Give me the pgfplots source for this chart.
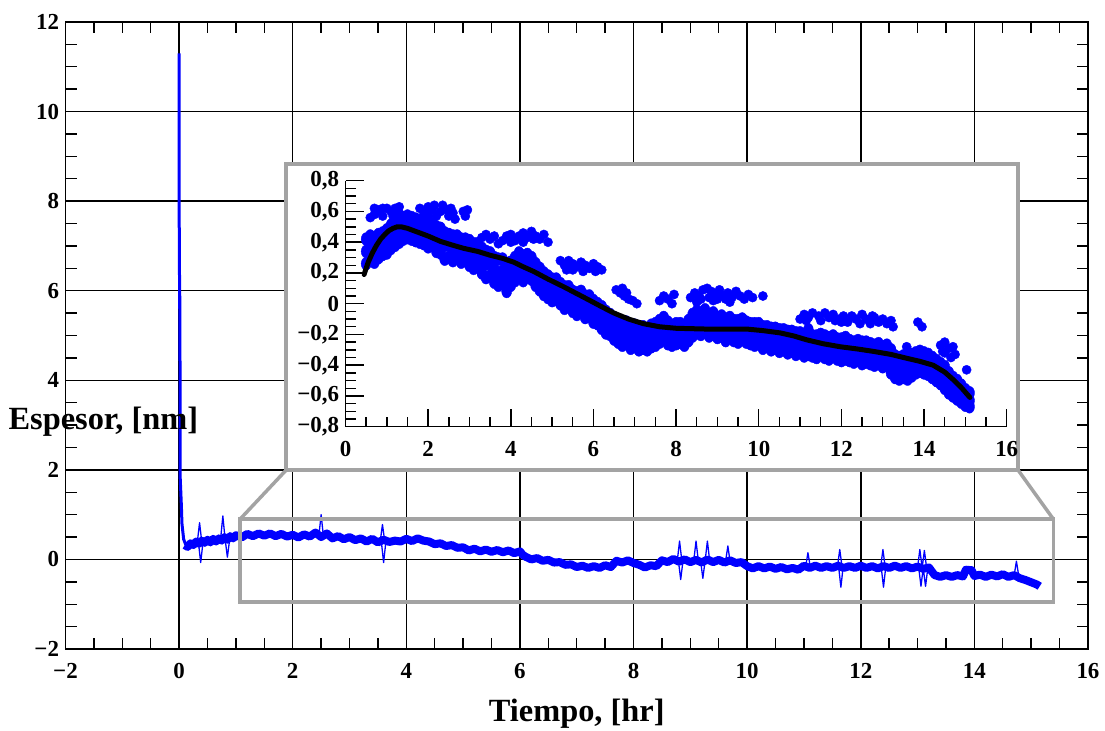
\documentclass[border=0pt]{standalone}
\usepackage{fontspec}
\setmainfont{Liberation Serif}
\usepackage{pgfplots}
\pgfplotsset{compat=1.18}
\definecolor{inkblue}{RGB}{0,0,255}
\definecolor{framegray}{RGB}{163,163,163}
\newcommand{\tickfont}{\fontsize{23}{27}\selectfont\bfseries}

\begin{document}
\begin{tikzpicture}
\useasboundingbox (0bp,0bp) rectangle (1105bp,731bp);

% ---------------- main plot: whole run ----------------
\begin{axis}[
  at={(65.5bp,82bp)}, anchor=south west,
  scale only axis, width=1022.5bp, height=627bp,
  xmin=-2, xmax=16, ymin=-2, ymax=12,
  xtick={-2,0,...,16}, xticklabels={−2,0,2,4,6,8,10,12,14,16},
  ytick={-2,0,...,12}, yticklabels={−2,0,2,4,6,8,10,12},
  minor x tick num=3, minor y tick num=3,
  tick align=inside,
  major tick length=19bp, minor tick length=11bp,
  every tick/.style={black, line width=1.4bp},
  grid=major, major grid style={black, line width=1.5bp},
  axis line style={line width=1.4bp},
  xticklabel style={yshift=-11bp, font=\tickfont},
  yticklabel style={xshift=-3bp, font=\tickfont},
  xlabel={Tiempo, [hr]}, ylabel={Espesor, [nm]},
  label style={font=\fontsize{32.5}{36}\selectfont\bfseries},
  xlabel style={at={(axis description cs:0.5,-0.104)}, anchor=center},
  ylabel style={at={(axis description cs:0.037,0.362)}, anchor=center, rotate=-90},
  unbounded coords=jump,
]
% initial transient
\addplot[inkblue, line width=3bp, line join=round] coordinates {
(0,11.3)(0,8)(0.01,5.6)(0.01,6.3)(0.02,3)(0.02,1.8)(0.04,1.2)(0.05,0.8)(0.08,0.45)(0.12,0.32)
};
% noisy band
\addplot[inkblue, line width=8bp, line join=round] coordinates {
(0.10,0.32)(0.15,0.28)(0.2,0.36)(0.25,0.32)(0.3,0.40)(0.35,0.35)(0.4,0.42)(0.45,0.37)(0.5,0.44)(0.55,0.38)
(0.6,0.46)(0.65,0.40)(0.7,0.47)(0.75,0.42)(0.8,0.50)(0.85,0.44)(0.9,0.52)(0.95,0.47)(1.0,0.54)(1.1,0.49)
(1.2,0.57)(1.3,0.52)(1.4,0.58)(1.5,0.53)(1.6,0.58)(1.7,0.52)(1.8,0.57)(1.9,0.51)(2.0,0.55)(2.1,0.49)
(2.2,0.56)(2.3,0.51)(2.4,0.60)(2.5,0.50)(2.6,0.58)(2.7,0.47)(2.8,0.52)(2.9,0.45)(3.0,0.50)(3.1,0.43)
(3.2,0.47)(3.3,0.40)(3.4,0.46)(3.5,0.38)(3.6,0.44)(3.7,0.39)(3.8,0.42)(3.9,0.40)(4.0,0.46)(4.1,0.41)
(4.2,0.47)(4.3,0.42)(4.4,0.40)(4.5,0.34)(4.6,0.36)(4.7,0.30)(4.8,0.32)(4.9,0.26)(5.0,0.27)(5.1,0.20)
(5.2,0.24)(5.3,0.18)(5.4,0.22)(5.5,0.17)(5.6,0.21)(5.7,0.16)(5.8,0.20)(5.9,0.14)(6.0,0.18)(6.05,0.10)
(6.1,0.06)(6.2,0.00)(6.3,0.03)(6.4,-0.03)(6.5,-0.01)(6.6,-0.07)(6.7,-0.06)(6.8,-0.12)(6.9,-0.11)(7.0,-0.17)
(7.1,-0.14)(7.2,-0.19)(7.3,-0.15)(7.4,-0.19)(7.5,-0.13)(7.6,-0.17)(7.7,-0.03)(7.8,-0.07)(7.9,-0.02)(8.0,-0.08)
(8.1,-0.12)(8.2,-0.18)(8.3,-0.13)(8.4,-0.15)(8.5,-0.02)(8.6,-0.06)(8.7,0.01)(8.8,-0.05)(8.9,0.00)(9.0,-0.06)
(9.1,-0.01)(9.2,-0.07)(9.3,0.00)(9.4,-0.06)(9.5,-0.01)(9.6,-0.07)(9.7,-0.02)(9.8,-0.08)(9.9,-0.06)(10.0,-0.15)
(10.1,-0.20)(10.2,-0.15)(10.3,-0.20)(10.4,-0.16)(10.5,-0.21)(10.6,-0.17)(10.7,-0.22)(10.8,-0.19)(10.9,-0.23)(11.0,-0.14)
(11.1,-0.19)(11.2,-0.14)(11.3,-0.19)(11.4,-0.15)(11.5,-0.19)(11.6,-0.14)(11.7,-0.19)(11.8,-0.15)(11.9,-0.19)(12.0,-0.14)
(12.1,-0.19)(12.2,-0.15)(12.3,-0.20)(12.4,-0.15)(12.5,-0.19)(12.6,-0.14)(12.7,-0.19)(12.8,-0.15)(12.9,-0.20)(13.0,-0.16)
(13.1,-0.21)(13.2,-0.18)(13.3,-0.35)(13.4,-0.39)(13.5,-0.35)(13.6,-0.39)(13.7,-0.35)(13.8,-0.38)(13.85,-0.23)(13.95,-0.24)
(14.0,-0.37)(14.1,-0.34)(14.2,-0.39)(14.3,-0.34)(14.4,-0.38)(14.5,-0.33)(14.6,-0.39)(14.7,-0.35)(14.8,-0.42)(14.9,-0.46)
(15.0,-0.51)(15.1,-0.56)(15.15,-0.60)
};
% short excursions
\addplot[inkblue, line width=1.3bp, line join=round] coordinates {
(0.32,0.38)(0.36,0.82)(0.40,0.38)(0.40,nan)
(0.34,0.38)(0.38,-0.07)(0.42,0.38)(0.42,nan)
(0.73,0.45)(0.77,0.97)(0.81,0.45)(0.81,nan)
(0.81,0.45)(0.85,0.05)(0.89,0.45)(0.89,nan)
(2.46,0.52)(2.50,1.00)(2.54,0.52)(2.54,nan)
(3.54,0.40)(3.58,0.78)(3.62,0.40)(3.62,nan)
(3.56,0.40)(3.60,-0.07)(3.64,0.40)(3.64,nan)
(8.77,-0.03)(8.81,0.41)(8.85,-0.03)(8.85,nan)
(8.79,-0.03)(8.83,-0.45)(8.87,-0.03)(8.87,nan)
(9.06,-0.03)(9.10,0.41)(9.14,-0.03)(9.14,nan)
(9.18,-0.03)(9.22,-0.42)(9.26,-0.03)(9.26,nan)
(9.26,-0.03)(9.30,0.41)(9.34,-0.03)(9.34,nan)
(9.62,-0.05)(9.66,0.30)(9.70,-0.05)(9.70,nan)
(11.03,-0.16)(11.07,0.15)(11.11,-0.16)(11.11,nan)
(11.59,-0.16)(11.63,0.22)(11.67,-0.16)(11.67,nan)
(11.61,-0.16)(11.65,-0.62)(11.69,-0.16)(11.69,nan)
(12.35,-0.17)(12.39,0.22)(12.43,-0.17)(12.43,nan)
(12.36,-0.17)(12.40,-0.62)(12.44,-0.17)(12.44,nan)
(13.00,-0.18)(13.04,0.22)(13.08,-0.18)(13.08,nan)
(13.02,-0.18)(13.06,-0.60)(13.10,-0.18)(13.10,nan)
(13.08,-0.20)(13.12,0.20)(13.16,-0.20)(13.16,nan)
(13.10,-0.20)(13.14,-0.60)(13.18,-0.20)(13.18,nan)
(14.70,-0.36)(14.74,-0.04)(14.78,-0.36)
};
% zoom window and its leaders
\draw[framegray, line width=3.5bp] (axis cs:1.074,-0.953) rectangle (axis cs:15.39,0.90);
\draw[framegray, line width=3.5bp] (axis cs:1.074,0.90) -- (axis cs:1.884,1.994);
\draw[framegray, line width=3.5bp] (axis cs:15.39,0.90) -- (axis cs:14.77,1.994);
\draw[framegray, line width=3.5bp, fill=white] (axis cs:1.884,1.994) rectangle (axis cs:14.77,8.83);
\end{axis}

% ---------------- inset: detail of the run ----------------
\begin{axis}[
  at={(345.5bp,304.3bp)}, anchor=south west,
  scale only axis, width=661.2bp, height=246bp,
  xmin=0, xmax=16, ymin=-0.8, ymax=0.8,
  axis x line*=bottom, axis y line*=left,
  axis line style={-, line width=1.4bp},
  xtick={0,2,...,16}, xticklabels={0,2,4,6,8,10,12,14,16},
  ytick={-0.8,-0.6,-0.4,-0.2,0,0.2,0.4,0.6,0.8},
  yticklabels={{−0,8},{−0,6},{−0,4},{−0,2},{0},{0,2},{0,4},{0,6},{0,8}},
  minor x tick num=3, minor y tick num=3,
  tick align=inside,
  major tick length=18bp, minor tick length=10bp,
  every tick/.style={black, line width=1.4bp},
  xticklabel style={yshift=-11bp, font=\tickfont},
  yticklabel style={xshift=-3bp, font=\tickfont},
]
% measured thickness, main cloud
\addplot[only marks, mark=*, mark size=5bp, inkblue, mark options={draw=inkblue, fill=inkblue, yscale=1.3}] coordinates {
(0.5,0.26)(0.5,0.34)(0.5,0.42)(0.6,0.28)(0.6,0.36)(0.6,0.44)(0.7,0.27)(0.7,0.35)(0.7,0.43)
(0.8,0.30)(0.8,0.38)(0.8,0.45)(0.9,0.32)(0.9,0.40)(0.9,0.46)(1.0,0.33)(1.0,0.41)(1.0,0.48)
(1.1,0.36)(1.1,0.44)(1.1,0.51)(1.2,0.38)(1.2,0.46)(1.2,0.53)(1.3,0.40)(1.3,0.47)(1.3,0.55)
(1.4,0.42)(1.4,0.49)(1.4,0.56)(1.5,0.43)(1.5,0.50)(1.5,0.57)(1.6,0.42)(1.6,0.49)(1.6,0.56)
(1.7,0.41)(1.7,0.48)(1.7,0.55)(1.8,0.40)(1.8,0.47)(1.8,0.54)(1.9,0.39)(1.9,0.46)(1.9,0.53)
(2.0,0.37)(2.0,0.45)(2.0,0.52)(2.1,0.38)(2.1,0.45)(2.1,0.52)(2.2,0.34)(2.2,0.42)(2.2,0.50)
(2.3,0.33)(2.3,0.41)(2.3,0.49)(2.4,0.29)(2.4,0.38)(2.4,0.46)(2.5,0.30)(2.5,0.38)(2.5,0.45)
(2.6,0.28)(2.6,0.36)(2.6,0.44)(2.7,0.31)(2.7,0.38)(2.7,0.44)(2.8,0.27)(2.8,0.35)(2.8,0.42)
(2.9,0.28)(2.9,0.35)(2.9,0.42)(3.0,0.25)(3.0,0.33)(3.0,0.41)(3.1,0.23)(3.1,0.31)(3.1,0.39)
(3.2,0.25)(3.2,0.32)(3.2,0.39)(3.3,0.20)(3.3,0.28)(3.3,0.36)(3.4,0.17)(3.4,0.26)(3.4,0.34)
(3.5,0.18)(3.5,0.26)(3.5,0.33)(3.6,0.14)(3.6,0.22)(3.6,0.30)(3.7,0.12)(3.7,0.20)(3.7,0.29)
(3.8,0.14)(3.8,0.21)(3.8,0.29)(3.9,0.08)(3.9,0.16)(3.9,0.25)(4.0,0.12)(4.0,0.20)(4.0,0.27)
(4.1,0.15)(4.1,0.23)(4.1,0.30)(4.2,0.17)(4.2,0.25)(4.2,0.33)(4.3,0.15)(4.3,0.23)(4.3,0.31)
(4.4,0.18)(4.4,0.26)(4.4,0.32)(4.5,0.16)(4.5,0.24)(4.5,0.30)(4.6,0.12)(4.6,0.19)(4.6,0.26)
(4.7,0.09)(4.7,0.16)(4.7,0.23)(4.8,0.06)(4.8,0.13)(4.8,0.20)(4.9,0.04)(4.9,0.11)(4.9,0.18)
(5.0,0.02)(5.0,0.09)(5.0,0.16)(5.1,0.03)(5.1,0.10)(5.1,0.16)(5.2,0.00)(5.2,0.07)(5.2,0.13)
(5.3,-0.03)(5.3,0.04)(5.3,0.11)(5.4,-0.02)(5.4,0.05)(5.4,0.11)(5.5,-0.05)(5.5,0.02)(5.5,0.08)
(5.6,-0.07)(5.6,0.00)(5.6,0.07)(5.7,-0.05)(5.7,0.02)(5.7,0.08)(5.8,-0.09)(5.8,-0.02)(5.8,0.05)
(5.9,-0.08)(5.9,-0.01)(5.9,0.05)(6.0,-0.12)(6.0,-0.05)(6.0,0.02)(6.1,-0.13)(6.1,-0.06)(6.1,0.00)
(6.2,-0.16)(6.2,-0.09)(6.2,-0.02)(6.3,-0.19)(6.3,-0.12)(6.3,-0.05)(6.4,-0.20)(6.4,-0.13)(6.4,-0.07)
(6.5,-0.23)(6.5,-0.16)(6.5,-0.09)(6.6,-0.25)(6.6,-0.18)(6.6,-0.11)(6.7,-0.27)(6.7,-0.20)(6.7,-0.13)
(6.8,-0.26)(6.8,-0.19)(6.8,-0.12)(6.9,-0.29)(6.9,-0.22)(6.9,-0.15)(7.0,-0.28)(7.0,-0.21)(7.0,-0.14)
(7.1,-0.30)(7.1,-0.23)(7.1,-0.16)(7.2,-0.29)(7.2,-0.22)(7.2,-0.15)(7.3,-0.30)(7.3,-0.24)(7.3,-0.17)
(7.4,-0.28)(7.4,-0.21)(7.4,-0.14)(7.5,-0.27)(7.5,-0.20)(7.5,-0.13)(7.6,-0.25)(7.6,-0.18)(7.6,-0.11)
(7.7,-0.22)(7.7,-0.15)(7.7,-0.09)(7.8,-0.26)(7.8,-0.19)(7.8,-0.12)(7.9,-0.27)(7.9,-0.20)(7.9,-0.14)
(8.0,-0.26)(8.0,-0.19)(8.0,-0.13)(8.1,-0.25)(8.1,-0.19)(8.1,-0.13)(8.2,-0.27)(8.2,-0.21)(8.2,-0.15)
(8.3,-0.24)(8.3,-0.18)(8.3,-0.11)(8.4,-0.21)(8.4,-0.14)(8.4,-0.07)(8.5,-0.19)(8.5,-0.12)(8.5,-0.05)
(8.6,-0.20)(8.6,-0.13)(8.6,-0.06)(8.7,-0.18)(8.7,-0.11)(8.7,-0.04)(8.8,-0.21)(8.8,-0.14)(8.8,-0.07)
(8.9,-0.20)(8.9,-0.13)(8.9,-0.06)(9.0,-0.22)(9.0,-0.15)(9.0,-0.09)(9.1,-0.21)(9.1,-0.14)(9.1,-0.08)
(9.2,-0.24)(9.2,-0.17)(9.2,-0.10)(9.3,-0.22)(9.3,-0.15)(9.3,-0.09)(9.4,-0.24)(9.4,-0.17)(9.4,-0.11)
(9.5,-0.25)(9.5,-0.18)(9.5,-0.11)(9.6,-0.23)(9.6,-0.16)(9.6,-0.10)(9.7,-0.25)(9.7,-0.18)(9.7,-0.12)
(9.8,-0.26)(9.8,-0.19)(9.8,-0.13)(9.9,-0.27)(9.9,-0.20)(9.9,-0.13)(10.0,-0.26)(10.0,-0.19)(10.0,-0.13)
(10.1,-0.29)(10.1,-0.22)(10.1,-0.15)(10.2,-0.28)(10.2,-0.21)(10.2,-0.15)(10.3,-0.30)(10.3,-0.23)(10.3,-0.16)
(10.4,-0.29)(10.4,-0.22)(10.4,-0.16)(10.5,-0.31)(10.5,-0.24)(10.5,-0.17)(10.6,-0.30)(10.6,-0.23)(10.6,-0.17)
(10.7,-0.32)(10.7,-0.25)(10.7,-0.18)(10.8,-0.31)(10.8,-0.24)(10.8,-0.18)(10.9,-0.33)(10.9,-0.26)(10.9,-0.19)
(11.0,-0.32)(11.0,-0.25)(11.0,-0.19)(11.1,-0.34)(11.1,-0.27)(11.1,-0.20)(11.2,-0.33)(11.2,-0.26)(11.2,-0.17)
(11.3,-0.34)(11.3,-0.27)(11.3,-0.21)(11.4,-0.35)(11.4,-0.28)(11.4,-0.21)(11.5,-0.33)(11.5,-0.27)(11.5,-0.20)
(11.6,-0.35)(11.6,-0.28)(11.6,-0.21)(11.7,-0.36)(11.7,-0.29)(11.7,-0.22)(11.8,-0.34)(11.8,-0.28)(11.8,-0.21)
(11.9,-0.36)(11.9,-0.29)(11.9,-0.23)(12.0,-0.37)(12.0,-0.30)(12.0,-0.23)(12.1,-0.36)(12.1,-0.29)(12.1,-0.22)
(12.2,-0.37)(12.2,-0.31)(12.2,-0.24)(12.3,-0.38)(12.3,-0.31)(12.3,-0.25)(12.4,-0.37)(12.4,-0.30)(12.4,-0.24)
(12.5,-0.39)(12.5,-0.32)(12.5,-0.25)(12.6,-0.38)(12.6,-0.31)(12.6,-0.25)(12.7,-0.39)(12.7,-0.33)(12.7,-0.26)
(12.8,-0.40)(12.8,-0.33)(12.8,-0.27)(12.9,-0.39)(12.9,-0.32)(12.9,-0.26)(13.0,-0.41)(13.0,-0.34)(13.0,-0.28)
(13.1,-0.40)(13.1,-0.34)(13.1,-0.27)(13.2,-0.45)(13.2,-0.38)(13.2,-0.30)(13.3,-0.48)(13.3,-0.41)(13.3,-0.34)
(13.4,-0.49)(13.4,-0.42)(13.4,-0.35)(13.5,-0.48)(13.5,-0.41)(13.5,-0.34)(13.6,-0.49)(13.6,-0.42)(13.6,-0.35)
(13.7,-0.47)(13.7,-0.40)(13.7,-0.33)(13.8,-0.45)(13.8,-0.39)(13.8,-0.32)(13.9,-0.44)(13.9,-0.38)(13.9,-0.31)
(14.0,-0.45)(14.0,-0.39)(14.0,-0.32)(14.1,-0.46)(14.1,-0.40)(14.1,-0.33)(14.2,-0.48)(14.2,-0.41)(14.2,-0.35)
(14.3,-0.50)(14.3,-0.43)(14.3,-0.37)(14.4,-0.52)(14.4,-0.45)(14.4,-0.39)(14.5,-0.55)(14.5,-0.48)(14.5,-0.41)
(14.6,-0.58)(14.6,-0.51)(14.6,-0.45)(14.7,-0.60)(14.7,-0.54)(14.7,-0.48)(14.8,-0.62)(14.8,-0.56)(14.8,-0.50)
(14.9,-0.64)(14.9,-0.59)(14.9,-0.53)(15.0,-0.66)(15.0,-0.61)(15.0,-0.56)(15.1,-0.67)(15.1,-0.63)(15.1,-0.58)
};
% measured thickness, offset groups
\addplot[only marks, mark=*, mark size=4.6bp, inkblue, mark options={draw=inkblue, fill=inkblue}] coordinates {
(0.6,0.56)(0.7,0.58)(0.8,0.61)(0.9,0.57)(1.0,0.62)(1.1,0.60)(1.2,0.62)(1.3,0.59)(0.7,0.62)(0.9,0.62)(1.15,0.57)(1.3,0.63)
(1.8,0.62)(1.9,0.59)(2.0,0.57)(2.0,0.63)(2.1,0.61)(2.2,0.57)(2.3,0.60)(2.35,0.64)(2.45,0.61)(2.5,0.57)(2.6,0.59)(2.65,0.55)(2.55,0.62)(2.15,0.64)
(2.85,0.60)(2.9,0.57)(2.95,0.61)
(3.3,0.43)(3.4,0.45)(3.5,0.42)(3.6,0.44)(3.7,0.39)(3.8,0.41)(3.9,0.44)(4.0,0.45)(4.1,0.41)(4.2,0.44)(4.3,0.46)
(4.4,0.43)(4.5,0.47)(4.6,0.44)(4.7,0.42)(4.8,0.45)(4.9,0.40)(4.3,0.40)(4.55,0.42)(4.0,0.40)
(5.2,0.28)(5.3,0.25)(5.4,0.28)(5.5,0.26)(5.6,0.24)(5.7,0.27)(5.8,0.25)(5.9,0.23)(6.0,0.26)(6.1,0.24)(6.2,0.22)
(5.35,0.22)(5.75,0.21)(5.5,0.22)(6.05,0.21)
(6.55,0.09)(6.65,0.07)(6.75,0.05)(6.85,0.03)(6.95,0.02)(7.05,0.0)(6.7,0.1)(6.8,0.07)
(7.6,0.02)(7.7,0.05)(7.8,0.03)(7.95,0.06)(7.9,0.0)
(8.35,0.04)(8.45,0.07)(8.55,0.05)(8.65,0.09)(8.75,0.1)(8.85,0.08)(8.95,0.06)(9.05,0.09)(9.15,0.05)(9.25,0.07)
(9.35,0.04)(9.45,0.08)(9.55,0.05)(9.65,0.03)(9.75,0.06)(9.85,0.04)(10.1,0.05)(8.5,0.01)(8.9,0.02)(9.3,0.01)
(8.6,0.03)(8.8,0.04)(9.0,0.03)(9.2,0.03)
(11.0,-0.10)(11.1,-0.07)(11.2,-0.09)(11.3,-0.06)(11.45,-0.08)(11.6,-0.06)(11.7,-0.09)(11.8,-0.07)(11.95,-0.10)(12.05,-0.08)
(12.15,-0.12)(12.25,-0.08)(12.35,-0.10)(12.5,-0.07)(12.6,-0.10)(12.7,-0.13)(12.8,-0.09)(12.9,-0.12)(13.0,-0.10)(13.1,-0.13)
(13.2,-0.11)(13.25,-0.15)(12.45,-0.13)(11.5,-0.11)(11.15,-0.11)(11.85,-0.11)(12.0,-0.12)(12.75,-0.08)
(13.85,-0.12)(13.95,-0.15)(13.58,-0.28)
(14.4,-0.27)(14.5,-0.25)(14.6,-0.29)(14.5,-0.32)(14.7,-0.28)(14.75,-0.33)(14.65,-0.35)(14.45,-0.31)
(15.03,-0.43)
};
\end{axis}

% smoothed trend, on an overlay with the same frame so it sits above the points
\begin{axis}[
  at={(345.5bp,304.3bp)}, anchor=south west,
  scale only axis, width=661.2bp, height=246bp,
  xmin=0, xmax=16, ymin=-0.8, ymax=0.8,
  hide axis,
]
\addplot[black, line width=5bp, line join=round, line cap=round] coordinates {
(0.45,0.19)(0.55,0.27)(0.65,0.33)(0.75,0.38)(0.85,0.42)(0.95,0.45)(1.05,0.475)(1.15,0.49)(1.25,0.50)(1.35,0.50)
(1.5,0.49)(1.75,0.465)(2.0,0.44)(2.3,0.405)(2.6,0.38)(2.86,0.36)(3.2,0.34)(3.5,0.315)(3.8,0.295)(4.07,0.27)
(4.3,0.24)(4.55,0.21)(4.9,0.16)(5.28,0.11)(5.6,0.065)(5.92,0.02)(6.2,-0.02)(6.49,-0.06)(6.85,-0.10)(7.21,-0.13)
(7.6,-0.15)(8.0,-0.16)(8.74,-0.165)(9.71,-0.165)(10.1,-0.175)(10.52,-0.19)(10.85,-0.21)(11.16,-0.235)(11.55,-0.26)(11.97,-0.28)
(12.4,-0.295)(12.77,-0.31)(13.2,-0.33)(13.58,-0.355)(13.9,-0.375)(14.22,-0.40)(14.5,-0.445)(14.71,-0.495)(14.9,-0.545)(15.11,-0.61)
};
\end{axis}
\end{tikzpicture}
\end{document}
